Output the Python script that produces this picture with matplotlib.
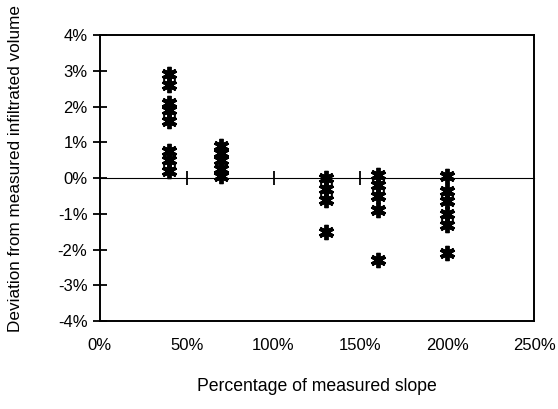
import matplotlib.pyplot as plt
from matplotlib.ticker import FuncFormatter

# slope as % of measured, deviation in %
slope_40 = [2.9, 2.6, 2.1, 1.9, 1.6, 0.75, 0.5, 0.2]
slope_70 = [0.9, 0.7, 0.5, 0.25, 0.05]
slope_130 = [0.0, -0.3, -0.6, -1.5]
slope_160 = [0.1, -0.2, -0.5, -0.9, -2.3]
slope_200 = [0.05, -0.35, -0.65, -1.0, -1.3, -2.1]

groups = {40: slope_40, 70: slope_70, 130: slope_130, 160: slope_160, 200: slope_200}

plt.rcParams['font.family'] = ['Liberation Sans', 'DejaVu Sans']

fig = plt.figure(figsize=(5.58, 4.09), dpi=100)
ax = fig.add_axes([0.179, 0.215, 0.778, 0.699])

for x, vals in groups.items():
    ax.plot([x] * len(vals), vals, linestyle='none', marker=(6, 2, 0),
            markersize=11, markeredgewidth=2.8, color='black')

ax.set_xlim(0, 250)
ax.set_ylim(-4, 4)
ax.set_yticks(range(-4, 5))
ax.yaxis.set_major_formatter(FuncFormatter(lambda v, p: f'{v:.0f}%'))
ax.set_xticks(range(0, 251, 50))
ax.xaxis.set_major_formatter(FuncFormatter(lambda v, p: f'{v:.0f}%'))
ax.tick_params(axis='x', length=0, pad=12, labelsize=12)
ax.tick_params(axis='y', direction='inout', length=10, width=1.3, pad=4, labelsize=12)

for s in ax.spines.values():
    s.set_linewidth(1.4)

# horizontal axis crossing at 0
zero_ax = ax.secondary_xaxis(0.5)
zero_ax.set_xticks([50, 100, 150, 200])
zero_ax.set_xticklabels([])
zero_ax.tick_params(direction='inout', length=10, width=1.3,
                    labelbottom=False, labeltop=False)
zero_ax.spines['bottom'].set_linewidth(1.3)

ax.set_xlabel('Percentage of measured slope', fontsize=12.7, labelpad=18)
ax.set_ylabel('Deviation from measured infiltrated volume', fontsize=12.3)
ax.yaxis.set_label_coords(-0.177, 0.535)

fig.savefig('out.png', dpi=100)
